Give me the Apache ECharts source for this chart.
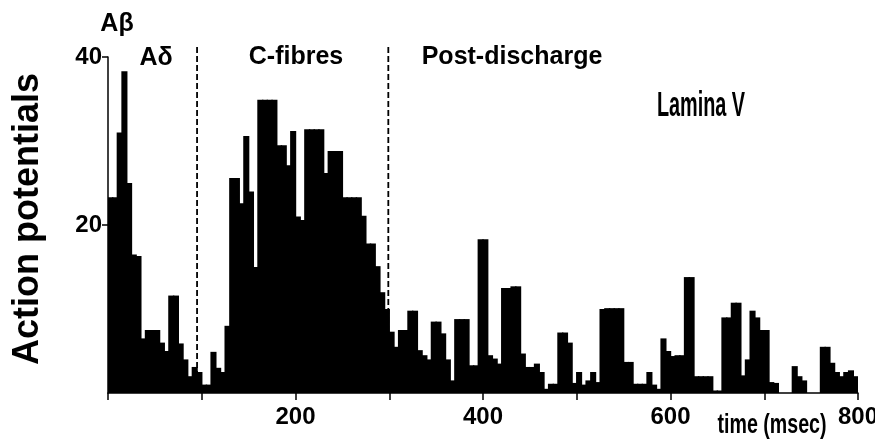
<!DOCTYPE html>
<html><head><meta charset="utf-8">
<script src="https://cdn.jsdelivr.net/npm/echarts@6/dist/echarts.min.js"></script>
<style>html,body{margin:0;padding:0;background:#fff}#c{width:875px;height:447px}</style>
</head><body><div id="c"></div>
<script>
// bin width of the histogram (ms)
const BIN_MS = 5;
// 0-100 ms : A-beta / A-delta responses
const earlyCounts = [23.3, 23.3, 31, 38.3, 25, 16.5, 16.3, 6.5, 7.5, 7.5, 7.5, 6, 5, 11.6, 11.6, 5.9, 4, 2, 3.1, 2.5];
// 100-300 ms : C-fibre responses
const cFibreCounts = [1, 1, 4.9, 3, 2.5, 8, 25.6, 25.6, 22.6, 30.6, 24, 15, 34.9, 34.9, 34.9, 34.9, 29.5, 29.5, 27.1, 31.2,
  21, 20.6, 31.4, 31.4, 31.4, 31.4, 26.2, 28.8, 28.8, 28.8, 23.3, 23.3, 23.3, 23.3, 21.1, 17.8, 17.8, 15.1, 12, 10];
// 300-800 ms : post-discharge
const postDischargeCounts = [7.3, 5.5, 7.5, 7.5, 9.8, 9.8, 5.1, 4.5, 4.0, 8.5,
  8.5, 7.1, 4.0, 1.5, 8.8, 8.8, 8.8, 3.3, 3.3, 18.3,
  18.3, 4.5, 4.1, 3.5, 12.5, 12.5, 12.7, 12.7, 4.7, 3.1,
  3.1, 3.5, 2.5, 0.5, 1.1, 1.1, 7.2, 7.2, 6.0, 1.2,
  2.5, 1, 1.5, 2.5, 1.3, 10, 10.1, 10.1, 10.1, 10.1,
  3.7, 3.7, 1.1, 1.1, 1.1, 2.5, 1, 0.5, 6.5, 5,
  4.4, 4.5, 4.5, 13.8, 13.8, 2.0, 2.0, 2.0, 2.0, 0.3,
  0.3, 9.0, 9.0, 10.75, 10.75, 2.1, 4.0, 9.8, 9, 7.5,
  7.5, 1.3, 1.2, 0, 0, 0, 3.2, 2, 1.5, 0,
  0, 0, 5.5, 5.5, 3.6, 2.5, 2, 2.5, 2.7, 2.0];
const xTickLabels = [200, 400, 600, 800];
const yTickLabels = [20, 40];
const phaseBoundaries = [95, 299]; // ms, dashed lines
const phaseLabels = [
  {text: 'A\u03b2', x: 117, y: 24},
  {text: 'A\u03b4', x: 156, y: 58},
  {text: 'C-fibres', x: 296, y: 57},
  {text: 'Post-discharge', x: 512, y: 57}
];

const counts = earlyCounts.concat(cFibreCounts, postDischargeCounts);
const binStarts = counts.map((_, i) => String(i * BIN_MS));

const font = "'Liberation Sans', Arial, sans-serif";

const chart = echarts.init(document.getElementById('c'), null, {renderer: 'canvas'});
chart.setOption({
  animation: false,
  backgroundColor: '#fff',
  grid: {left: 108, right: 17, top: 57, bottom: 54, containLabel: false, outerBoundsMode: 'none'},
  xAxis: [
    {type: 'category', data: binStarts, show: false, boundaryGap: true},
    {type: 'value', min: 0, max: 800, interval: 100, position: 'bottom',
      axisLine: {show: true, onZero: false, lineStyle: {color: '#000', width: 1.5}},
      axisTick: {show: true, length: 7, lineStyle: {color: '#000', width: 1.5}},
      axisLabel: {customValues: xTickLabels, color: '#000', fontFamily: font, fontWeight: 'bold', fontSize: 24, margin: 12},
      splitLine: {show: false}}
  ],
  yAxis: {
    type: 'value', min: 0, max: 40,
    axisLine: {show: true, lineStyle: {color: '#000', width: 1.5}},
    axisTick: {show: true, customValues: yTickLabels, length: 6, lineStyle: {color: '#000', width: 1.5}},
    axisLabel: {customValues: yTickLabels, color: '#000', fontFamily: font, fontWeight: 'bold', fontSize: 24, margin: 6},
    splitLine: {show: false}
  },
  series: [{
    type: 'bar', xAxisIndex: 0, yAxisIndex: 0, data: counts,
    barWidth: '130%',
    itemStyle: {color: '#000'},
    silent: true
  }]
});

const baseY = chart.convertToPixel({yAxisIndex: 0}, 0);
const topY = chart.convertToPixel({yAxisIndex: 0}, 41.2);
const graphics = [];
phaseBoundaries.forEach(v => {
  const x = chart.convertToPixel({xAxisIndex: 1}, v);
  graphics.push({type: 'line', shape: {x1: x, y1: topY, x2: x, y2: baseY},
    style: {stroke: '#000', lineWidth: 1.8, lineDash: [6, 3]}, silent: true});
});
phaseLabels.forEach(l => {
  graphics.push({type: 'text', x: l.x, y: l.y,
    style: {text: l.text, fill: '#000', font: 'bold 25px ' + font, textAlign: 'center', textVerticalAlign: 'middle'}});
});
graphics.push({type: 'text', x: 701, y: 106, scaleX: 0.62, scaleY: 1.08,
  style: {text: 'Lamina V', fill: '#000', font: 'bold 32px ' + font, textAlign: 'center', textVerticalAlign: 'middle'}});
graphics.push({type: 'text', x: 772, y: 425, scaleX: 0.7,
  style: {text: 'time (msec)', fill: '#000', font: 'bold 28px ' + font, textAlign: 'center', textVerticalAlign: 'middle'}});
graphics.push({type: 'text', x: 28, y: 219, rotation: Math.PI / 2,
  style: {text: 'Action potentials', fill: '#000', font: 'bold 36px ' + font, textAlign: 'center', textVerticalAlign: 'middle'}});
chart.setOption({graphic: graphics});
</script>
</body></html>
